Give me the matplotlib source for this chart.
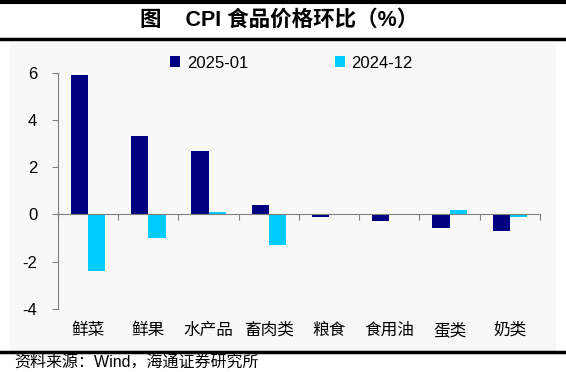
# CPI食品价格环比 柱状图
import numpy as np
import matplotlib.pyplot as plt
from matplotlib.transforms import blended_transform_factory
from matplotlib.patches import Rectangle
from matplotlib.lines import Line2D

plt.rcParams['font.family'] = ['Liberation Sans', 'Noto Sans CJK SC', 'DejaVu Sans']

categories = ["鲜菜", "鲜果", "水产品", "畜肉类", "粮食", "食用油", "蛋类", "奶类"]
series_names = ["2025-01", "2024-12"]
values_2501 = [5.9, 3.3, 2.7, 0.4, -0.1, -0.3, -0.6, -0.7]
values_2412 = [-2.4, -1.0, 0.1, -1.3, 0.0, 0.0, 0.2, -0.1]
yticks = [-4, -2, 0, 2, 4, 6]

fig = plt.figure(figsize=(5.66, 3.72), dpi=100)

# 背景の薄い灰色
fig.patches.append(Rectangle((10/566, 1-350/372), 545/566, 307/372,
                             transform=fig.transFigure, color="#F8F8F8", zorder=-10))
# 上下の罫線
for y, lw in [(1-2/372, 3), (1-39/372, 2.5), (1-352/372, 2.5)]:
    fig.lines.append(Line2D([0, 1], [y, y], transform=fig.transFigure, color="black", lw=lw))

fig.text(0.493, 1-20/372, "图    CPI 食品价格环比（%）", ha="center", va="center",
         fontsize=15.5, fontweight="bold")
fig.text(14/566, 1-363/372, "资料来源：Wind，海通证券研究所", ha="left", va="center", fontsize=11.5)

ax = fig.add_axes([58/566, 1-308.7/372, (540-58)/566, (308.7-72.7)/372])
ax.patch.set_alpha(0)

x = np.arange(len(categories))
w = 0.287
ax.bar(x - w/2, values_2501, w, color="#000080", label=series_names[0])
ax.bar(x + w/2, values_2412, w, color="#00CCFF", label=series_names[1])

ax.set_xlim(-0.5, len(categories) - 0.5)
ax.set_ylim(-4, 6)
ax.set_yticks(yticks)
ax.set_yticklabels([str(t) for t in yticks])
ax.tick_params(axis="y", length=4, color="#808080", pad=11, labelsize=12)

ax.spines["top"].set_visible(False)
ax.spines["right"].set_visible(False)
ax.spines["left"].set_color("#808080")
ax.spines["bottom"].set_position(("data", 0))
ax.spines["bottom"].set_color("#808080")
ax.set_xticks(np.arange(-0.5, len(categories), 1.0))
ax.set_xticklabels([])
ax.tick_params(axis="x", length=4, color="#808080", direction="out")

trans = blended_transform_factory(ax.transData, ax.transAxes)
for i, c in enumerate(categories):
    ax.text(i, -0.09, c, transform=trans, ha="center", va="center", fontsize=12)

fig.legend(loc="center left", bbox_to_anchor=(170/566, 1-63/372), ncol=2, frameon=False,
           handlelength=0.6, handleheight=0.6, handletextpad=0.4, columnspacing=5.2,
           fontsize=12, borderaxespad=0, borderpad=0)

fig.savefig("out.png", dpi=100)
